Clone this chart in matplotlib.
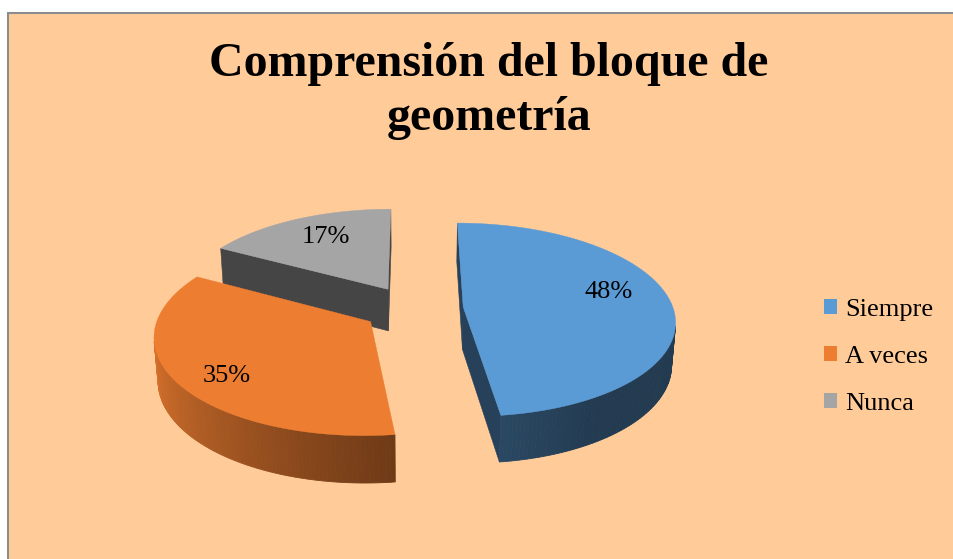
import numpy as np
import matplotlib
matplotlib.use("Agg")
import matplotlib.pyplot as plt
from matplotlib.patches import Polygon, Rectangle, Patch
from matplotlib.colors import to_rgb

# data
labels = ["Siempre", "A veces", "Nunca"]
values = [48, 35, 17]
colors = ["#5B9BD5", "#ED7D31", "#A5A5A5"]
title = "Comprensión del bloque de\ngeometría"

# view / layout (pixels of the 954x559 canvas)
W, H = 954, 559
CX, CY, SCALE = 413, 308.5, 210
ELEV = np.radians(27)
DIST = 6.8
DEPTH = 0.23
EXPLODE = 0.24
LABEL_POS = [(0.73, -9), (0.80, -6), (0.71, 2)]  # radius, angle tweak per label
SERIF = ["Liberation Serif", "DejaVu Serif"]

cam = np.array([0.0, DIST * np.sin(ELEV), -DIST * np.cos(ELEV)])


def project(p):
    x, y, z = p
    yv = y * np.cos(ELEV) + z * np.sin(ELEV)
    zv = -y * np.sin(ELEV) + z * np.cos(ELEV)
    w = 1 + zv / DIST
    return (CX + SCALE * x / w, CY - SCALE * yv / w)


def depth_of(p):
    x, y, z = p
    return -y * np.sin(ELEV) + z * np.cos(ELEV)


def facing(normal, p):
    return np.dot(normal, cam - np.asarray(p)) > 0


def shade(rgb, s):
    return tuple(np.clip(np.array(rgb) * s, 0, 1))


fig = plt.figure(figsize=(W / 100, H / 100), dpi=100)
ax = fig.add_axes([0, 0, 1, 1])
ax.set_xlim(0, W)
ax.set_ylim(H, 0)
ax.axis("off")

ax.add_patch(Rectangle((8.5, 12.5), W, H, facecolor="#FFCC99",
                       edgecolor="#8C8C8C", lw=1.5, zorder=0))

total = float(sum(values))
bounds = np.cumsum([0] + values) / total * 2 * np.pi
slices = []
for i, v in enumerate(values):
    t0, t1 = bounds[i], bounds[i + 1]
    tm = (t0 + t1) / 2
    ox, oz = EXPLODE * np.sin(tm), EXPLODE * np.cos(tm)
    slices.append((depth_of((ox, 0, oz)), i, t0, t1, tm, ox, oz))

# farthest slice first
slices.sort(key=lambda s: -s[0])

for _, i, t0, t1, tm, ox, oz in slices:
    base = to_rgb(colors[i])
    n = max(int(np.degrees(t1 - t0)), 4)
    ts = np.linspace(t0, t1, n + 1)

    def rim(t, y):
        return (ox + np.sin(t), y, oz + np.cos(t))

    c_top, c_bot = (ox, 0, oz), (ox, -DEPTH, oz)

    # radial faces
    for t, nrm in [(t0, np.array([-np.cos(t0), 0, np.sin(t0)])),
                   (t1, np.array([np.cos(t1), 0, -np.sin(t1)]))]:
        if facing(nrm, c_top):
            pts = [project(q) for q in (c_top, rim(t, 0), rim(t, -DEPTH), c_bot)]
            col = shade(base, 0.42)
            ax.add_patch(Polygon(pts, closed=True, facecolor=col, edgecolor=col,
                                 lw=0.4, zorder=2))

    # outer curved side, shaded like a light from the left
    for a, b in zip(ts[:-1], ts[1:]):
        m = (a + b) / 2
        nrm = np.array([np.sin(m), 0, np.cos(m)])
        if not facing(nrm, rim(m, 0)):
            continue
        s = 0.666 + 0.266 * (-np.sin(m)) - 0.166 * (-np.cos(m))
        s = np.clip(s, 0.38, 0.92)
        col = shade(base, s)
        pts = [project(q) for q in (rim(a, 0), rim(b, 0), rim(b, -DEPTH), rim(a, -DEPTH))]
        ax.add_patch(Polygon(pts, closed=True, facecolor=col, edgecolor=col,
                             lw=0.6, zorder=2))

    # top face
    pts = [project(c_top)] + [project(rim(t, 0)) for t in ts]
    ax.add_patch(Polygon(pts, closed=True, facecolor=base, edgecolor=base,
                         lw=0.3, zorder=3))

    # value label
    r, tweak = LABEL_POS[i]
    ta = tm + np.radians(tweak)
    lx, ly = project((ox + r * np.sin(ta), 0, oz + r * np.cos(ta)))
    ax.text(lx, ly, f"{values[i] / total:.0%}", ha="center", va="center",
            fontsize=19, family=SERIF, color="black", zorder=4)

fig.text(489 / W, 1 - 42 / H, title, ha="center", va="top", fontsize=34.5,
         fontweight="bold", family=SERIF, linespacing=1.3)

handles = [Patch(facecolor=c, edgecolor="none") for c in colors]
fig.legend(handles, labels, loc="center left",
           bbox_to_anchor=(824 / W, 1 - 357 / H), frameon=False,
           prop={"family": SERIF, "size": 19}, handlelength=0.5,
           handleheight=0.5, handletextpad=0.3, labelspacing=0.95,
           borderpad=0, borderaxespad=0)

fig.savefig("out.png", dpi=100, facecolor="white")
